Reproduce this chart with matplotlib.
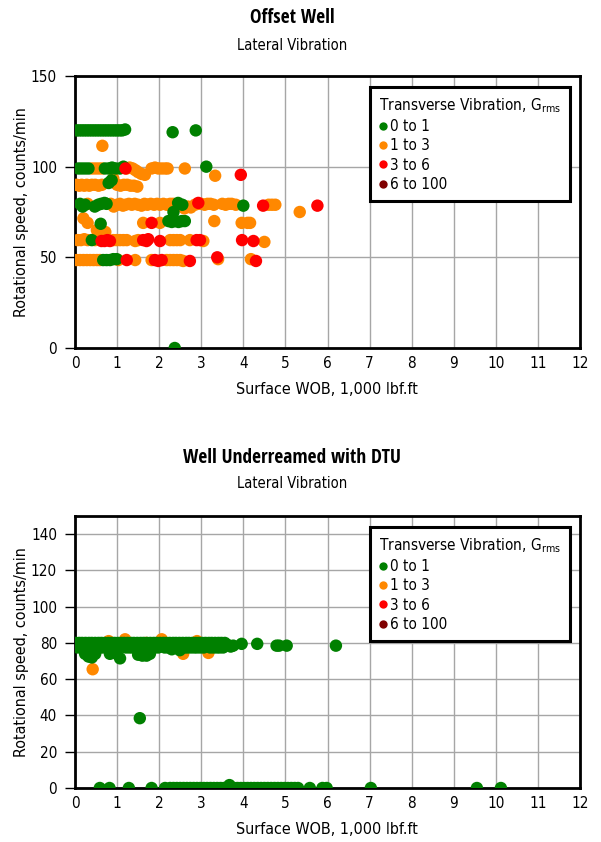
import matplotlib
matplotlib.use("Agg")
import matplotlib.pyplot as plt
from matplotlib.lines import Line2D

plt.rcParams["font.family"] = ["DejaVu Sans"]
plt.rcParams["font.stretch"] = "condensed"
plt.rcParams["mathtext.fontset"] = "custom"
plt.rcParams["mathtext.rm"] = "DejaVu Sans:stretch=condensed"
plt.rcParams["mathtext.it"] = "DejaVu Sans:stretch=condensed"

# ---- legend classes (transverse vibration, Grms) ----
classes = ["0 to 1", "1 to 3", "3 to 6", "6 to 100"]
class_colors = ["#008000", "#ff8800", "#ff0000", "#800000"]

# ---- Offset well: (WOB, rpm) points ----
top_green = [
    (0.04, 120), (0.1, 120), (0.16, 120), (0.22, 120), (0.28, 120), (0.34, 120), (0.4, 120),
    (0.46, 120), (0.52, 120), (0.58, 120), (0.64, 120), (0.7, 120), (0.76, 120), (0.82, 120),
    (0.88, 120), (0.94, 120), (1.0, 120), (1.06, 120), (1.12, 120), (1.19, 120.5), (2.32, 119),
    (2.87, 120),
    (0.08, 99), (0.16, 99), (0.24, 99), (0.32, 99), (0.71, 99), (0.8, 99), (0.88, 99.5),
    (0.97, 99), (1.07, 99), (1.15, 100), (3.12, 100),
    (0.8, 91), (0.87, 92.5),
    (0.12, 79.5), (0.18, 78), (0.24, 79), (0.47, 78), (0.55, 79), (0.62, 79.5), (0.7, 80),
    (0.75, 79.5), (2.45, 80), (2.55, 79), (4.0, 78.5),
    (2.34, 75), (0.61, 68.5),
    (2.22, 70), (2.3, 69.5), (2.38, 70), (2.46, 69.5), (2.54, 70), (2.61, 70),
    (0.4, 59.5),
    (0.67, 48.5), (0.75, 48.5), (0.83, 48.5), (0.91, 49), (0.99, 49),
    (2.37, 0),
]
top_orange = [
    (0.65, 111.5),
    (0.4, 99), (0.48, 99), (0.56, 99), (0.64, 99), (1.23, 99), (1.3, 99.5), (1.37, 99),
    (1.44, 98), (1.5, 97), (1.58, 96), (1.66, 95.5), (1.82, 99), (1.9, 99.5), (1.98, 99),
    (2.06, 99), (2.14, 99), (2.2, 99), (2.61, 99), (3.33, 95),
    (0.04, 90), (0.1, 89.5), (0.16, 90), (0.22, 89.5), (0.28, 90), (0.34, 89.5), (0.4, 90),
    (0.48, 90), (0.56, 89.5), (0.64, 90), (0.91, 93.5), (1.0, 90), (1.08, 89.5), (1.16, 90),
    (1.24, 90), (1.32, 89.5), (1.4, 89.5), (1.48, 89),
    (0.3, 79.5), (0.85, 79.5), (0.92, 78), (1.0, 79), (1.07, 79.5), (1.14, 78.5), (1.2, 79),
    (1.28, 79.5), (1.35, 79), (1.42, 79.5), (1.5, 79), (1.58, 78.5), (1.65, 79.5), (1.72, 79),
    (1.8, 79.5), (1.88, 79), (1.95, 79.5), (2.02, 79), (2.1, 79.5), (2.18, 79), (2.26, 79.5),
    (2.33, 79.5), (2.6, 77), (2.68, 78), (2.75, 77.5), (2.85, 79), (2.92, 79.5), (3.0, 79.5),
    (3.08, 79), (3.15, 79.5), (3.22, 79.5), (3.3, 79), (3.5, 79.5), (3.58, 79), (3.65, 79.5),
    (3.72, 79.5), (3.82, 79), (4.6, 79), (4.68, 79), (4.76, 79), (5.34, 75),
    (0.2, 71.5), (0.3, 69), (0.52, 65), (0.6, 63.5), (0.72, 64), (1.62, 69), (2.02, 69),
    (3.31, 70), (3.96, 69), (4.1, 69), (4.16, 69),
    (0.06, 59.5), (0.14, 59.5), (0.22, 60), (0.3, 59.5), (0.48, 59.5), (0.55, 60), (0.91, 59.5),
    (0.99, 59.5), (1.07, 59.5), (1.15, 59.5), (1.23, 59.5), (1.43, 59), (1.5, 59.5), (2.26, 59.5),
    (2.34, 59.5), (2.42, 59.5), (2.5, 59.5), (2.73, 59.5), (3.05, 59), (4.5, 58.5),
    (0.04, 48.5), (0.12, 48.5), (0.2, 48.5), (0.28, 48.5), (0.36, 48.5), (0.44, 48.5),
    (0.52, 48.5), (0.59, 48.5), (1.03, 48.5), (1.43, 48.5), (1.82, 48.5), (2.18, 48.5),
    (2.26, 48.5), (2.34, 48.5), (2.42, 48.5), (2.5, 48.5), (2.57, 48), (3.4, 49), (4.18, 49),
]
top_red = [
    (1.2, 99), (3.94, 95.5), (2.93, 80), (4.47, 78.5), (5.76, 78.5), (1.82, 69),
    (0.63, 59), (0.7, 59), (0.77, 59.5), (0.83, 59), (1.62, 59.5), (1.7, 59), (1.74, 60),
    (2.02, 59), (2.89, 59.5), (2.97, 59.5), (3.97, 59.5), (4.24, 59),
    (1.23, 48.5), (1.9, 48.5), (1.98, 48), (2.06, 48.5), (2.73, 48), (3.38, 50), (4.3, 48),
]
top_darkred = []

# ---- Well underreamed with DTU ----
band_hi_x = [0.02, 0.1, 0.17, 0.25, 0.33, 0.4, 0.48, 0.56, 0.63, 0.71, 0.79, 0.86, 0.94, 1.02,
             1.1, 1.17, 1.25, 1.33, 1.4, 1.48, 1.56, 1.63, 1.71, 1.79, 1.87, 1.94, 2.02, 2.1,
             2.17, 2.25, 2.33, 2.4, 2.48, 2.56, 2.64, 2.71, 2.79, 2.87, 2.94, 3.02, 3.1, 3.18,
             3.25, 3.33, 3.41, 3.48, 3.56]
band_hi_y = 80
band_lo_x = [0.06, 0.14, 0.21, 0.29, 0.37, 0.44, 0.52, 0.6, 0.67, 0.75, 0.9, 0.98, 1.06, 1.21,
             1.29, 1.36, 1.44, 1.6, 1.67, 1.83, 1.9, 1.98, 2.13, 2.21, 2.29, 2.44, 2.6, 2.67,
             2.75, 2.83, 2.9, 2.98, 3.06, 3.21, 3.29, 3.37, 3.44, 3.52]
band_lo_y = 77.5
zero_x = [0.59, 0.82, 1.28, 1.82, 2.14, 2.26, 2.34, 2.42, 2.5, 2.58, 2.66, 2.74, 2.82, 2.9,
          2.98, 3.06, 3.14, 3.22, 3.3, 3.38, 3.46, 3.54, 3.62, 3.78, 3.86, 3.94, 4.02, 4.1,
          4.18, 4.26, 4.34, 4.42, 4.5, 4.58, 4.66, 4.74, 4.82, 4.9, 4.98, 5.06, 5.14, 5.22,
          5.3, 5.58, 5.88, 5.98, 7.03, 9.55, 10.12]
bot_green_other = [
    (0.24, 74), (0.32, 72.5), (0.4, 72), (0.48, 74), (0.83, 74), (0.91, 74.5), (1.07, 71.5),
    (1.5, 73.5), (1.6, 73), (1.7, 73), (1.78, 74), (2.3, 76.5), (2.49, 76),
    (3.62, 79), (3.7, 78), (3.76, 78.5), (3.96, 79.5), (4.33, 79.5), (4.79, 78.5),
    (4.85, 78.5), (5.03, 78.5), (6.2, 78.5), (1.54, 38.5), (3.67, 1.6),
]
bot_orange = [
    (0.42, 65.5), (1.19, 82), (1.69, 80), (2.06, 82), (2.49, 79.5), (2.57, 74), (3.17, 74.5),
    (0.8, 81), (2.9, 81),
]
bot_red = []
bot_darkred = []

bot_green = ([(x, band_hi_y) for x in band_hi_x] + [(x, band_lo_y) for x in band_lo_x]
             + [(x, 0) for x in zero_x] + bot_green_other)

x_ticks = list(range(0, 13))
top_y_ticks = [0, 50, 100, 150]
bot_y_ticks = [0, 20, 40, 60, 80, 100, 120, 140]

TITLE_FONT = {"family": "Open Sans Condensed", "weight": "bold", "stretch": "condensed"}


def draw_panel(ax, series, y_ticks, title, subtitle, y_title_px, sub_px, xlabel_px):
    # draw order: orange below green, reds on top
    order = [1, 0, 2, 3]
    for i in order:
        pts = series[i]
        if pts:
            xs, ys = zip(*pts)
            ax.scatter(xs, ys, s=80, color=class_colors[i], edgecolors="none", zorder=3)
    ax.set_xlim(0, 12)
    ax.set_ylim(0, 150)
    ax.set_xticks(x_ticks)
    ax.set_yticks(y_ticks)
    ax.grid(True, color="#a6a6a6", linewidth=1.0, zorder=0)
    ax.set_axisbelow(True)
    for sp in ax.spines.values():
        sp.set_linewidth(2.0)
        sp.set_color("black")
    ax.tick_params(axis="y", length=7, width=1.0, pad=6, labelsize=11)
    ax.tick_params(axis="x", length=0, pad=6, labelsize=11)

    handles = [Line2D([], [], linestyle="none", marker="o", markersize=6,
                      markerfacecolor=c, markeredgecolor="none") for c in class_colors]
    leg = ax.legend(handles, classes, title="Transverse Vibration, G$_{\\mathrm{rms}}$",
                    loc="upper right", bbox_to_anchor=(0.98, 0.96), borderaxespad=0,
                    frameon=True, fancybox=False, framealpha=1, edgecolor="black",
                    fontsize=11, title_fontsize=11, handlelength=0.5, handletextpad=0.25,
                    labelspacing=0.28, borderpad=0.6, alignment="left")
    leg.get_frame().set_linewidth(2.2)
    leg.set_zorder(5)

    fig.text(292 / 601, 1 - y_title_px / 842, title, ha="center", va="center",
             fontsize=14, fontdict=TITLE_FONT)
    fig.text(292 / 601, 1 - sub_px / 842, subtitle, ha="center", va="center", fontsize=10.5)
    fig.text(327 / 601, 1 - xlabel_px / 842, "Surface WOB, 1,000 lbf.ft", ha="center",
             va="center", fontsize=11.5)
    pos = ax.get_position()
    fig.text(22 / 601, pos.y0 + pos.height / 2, "Rotational speed, counts/min", rotation=90,
             ha="center", va="center", fontsize=11.5)


fig = plt.figure(figsize=(6.01, 8.42), dpi=100)
ax_top = fig.add_axes([75 / 601, (842 - 348) / 842, 505 / 601, 272 / 842])
ax_bot = fig.add_axes([75 / 601, (842 - 788) / 842, 505 / 601, 272 / 842])

draw_panel(ax_top, [top_green, top_orange, top_red, top_darkred], top_y_ticks,
           "Offset Well", "Lateral Vibration", 18, 45, 390)
draw_panel(ax_bot, [bot_green, bot_orange, bot_red, bot_darkred], bot_y_ticks,
           "Well Underreamed with DTU", "Lateral Vibration", 458, 484, 830)

fig.savefig("out.png", dpi=100)
